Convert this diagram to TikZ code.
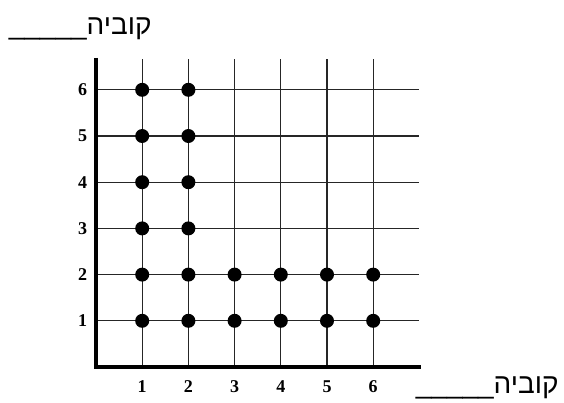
\documentclass[tikz,border=0pt]{standalone}
\usepackage{fontspec}
\newfontfamily\hebfont[Script=Hebrew]{Liberation Sans}
\newfontfamily\numfont{Liberation Serif}
\TeXXeTstate=1

\begin{document}
\begin{tikzpicture}[x=46.2pt, y=46.2pt,
    gridline/.style={draw, black!85, line width=1.1pt},
    axisline/.style={draw, black, line width=3.6pt, line join=miter},
    dot/.style={circle, fill=black, minimum size=14pt, inner sep=0pt},
    num/.style={inner sep=0pt, font=\numfont\bfseries\fontsize{18}{18}\selectfont},
    heb/.style={inner sep=0pt, font=\hebfont\fontsize{28}{28}\selectfont}]

\useasboundingbox (-2.078,-0.758) rectangle (10.13,7.944);

% grid
\foreach \i in {1,...,6} {
  \draw[gridline] (\i,0) -- (\i,6.67);
  \draw[gridline] (0,\i) -- (7,\i);
}

% axes
\coordinate (o) at (0,0);
\coordinate (ytop) at (0,6.69);
\coordinate (xend) at (7.03,0);
\draw[axisline] (ytop) -- (o) -- (xend);

% tick labels
\foreach \i in {1,...,6} {
  \node[num] (x\i) at (\i,-0.43) {\i};
  \node[num] (y\i) at (-0.29,\i) {\i};
}

% dots
\foreach \i in {1,2}
  \foreach \j in {1,...,6}
    \node[dot] (d\i\j) at (\i,\j) {};
\foreach \i in {3,...,6}
  \foreach \j in {1,2}
    \node[dot] (d\i\j) at (\i,\j) {};

% die labels
\node[heb, anchor=base east] (dietop) at (1.21,7.19) {\beginR קוביה\_\_\_\_\_\endR};
\node[heb, anchor=base east] (diebot) at (10.02,-0.57) {\beginR קוביה\_\_\_\_\_\endR};

\end{tikzpicture}
\end{document}
